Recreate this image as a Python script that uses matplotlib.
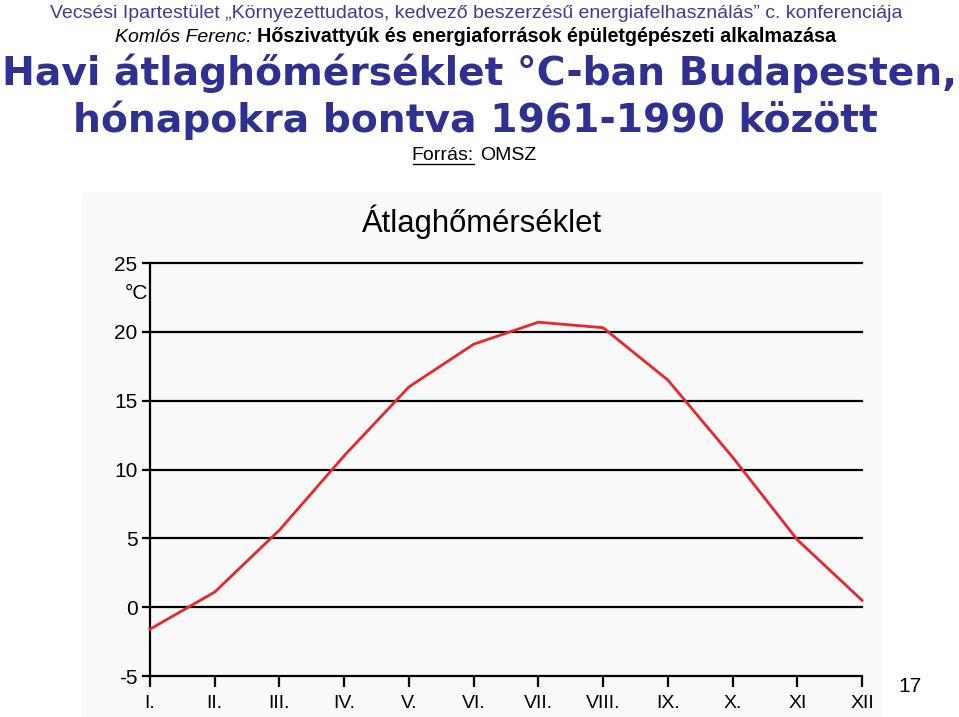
#!/usr/bin/env python3
"""
Havi átlaghőmérséklet Budapesten (1961-1990) - slide recreation
"""

import matplotlib
matplotlib.use("Agg")
import matplotlib.pyplot as plt
import matplotlib.patches as patches

# Monthly mean temperatures
MONTHS = ["I.", "II.", "III.", "IV.", "V.", "VI.", "VII.", "VIII.", "IX.", "X.", "XI", "XII"]
TEMPS = [-1.6, 1.1, 5.6, 11.0, 16.0, 19.1, 20.7, 20.3, 16.5, 10.9, 4.9, 0.5]
Y_TICKS = [-5, 0, 5, 10, 15, 20, 25]

NAVY = "#2e3192"
HEAD_BLUE = "#3b3b9a"
SANS = ["Liberation Sans", "DejaVu Sans"]

W, H = 959, 717
fig = plt.figure(figsize=(W / 100, H / 100), dpi=100)
fig.patch.set_facecolor("white")


def fx(px):
    return px / W


def fy(py):
    return 1 - py / H


# Header lines
fig.text(fx(476), fy(13), "Vecsési Ipartestület „Környezettudatos, kedvező beszerzésű "
         "energiafelhasználás” c. konferenciája",
         ha="center", va="center", fontsize=14, color=HEAD_BLUE, family=SANS)
fig.text(fx(257), fy(37), "Komlós Ferenc: ", ha="right", va="center",
         fontsize=14, style="italic", color="black", family=SANS)
fig.text(fx(257), fy(37), "Hőszivattyúk és energiaforrások épületgépészeti alkalmazása",
         ha="left", va="center", fontsize=14.2, weight="bold", color="black", family=SANS)

# Slide title
fig.text(fx(480), fy(73), "Havi átlaghőmérséklet °C-ban Budapesten,",
         ha="center", va="center", fontsize=28.3, weight="bold", color=NAVY,
         family="DejaVu Sans")
fig.text(fx(475), fy(120), "hónapokra bontva 1961-1990 között",
         ha="center", va="center", fontsize=28.3, weight="bold", color=NAVY,
         family="DejaVu Sans")

# Source
fig.text(fx(474), fy(155), "Forrás:", ha="right", va="center", fontsize=14,
         color="black", family=SANS)
fig.add_artist(plt.Line2D([fx(413), fx(474)], [fy(164), fy(164)], color="black", lw=1))
fig.text(fx(480), fy(155), "OMSZ", ha="left", va="center", fontsize=14,
         color="black", family=SANS)

# Faint chart image background
fig.add_artist(patches.Rectangle((fx(82), 0), fx(882) - fx(82), fy(193),
                                 transform=fig.transFigure, facecolor="#f9f9f9",
                                 edgecolor="none", zorder=0))

# Page number
fig.text(fx(910), fy(686), "17", ha="center", va="center", fontsize=15,
         color="black", family=SANS)

# Chart
left, right, top, bottom = 150, 862, 263, 676
ax = fig.add_axes([fx(left), fy(bottom), fx(right - left), fy(top) - fy(bottom)])
ax.set_facecolor("none")
x = list(range(len(MONTHS)))
ax.set_xlim(0, len(MONTHS) - 1)
ax.set_ylim(-5, 25)

for v in Y_TICKS[1:]:
    ax.axhline(v, color="black", lw=1.6, clip_on=False, zorder=1)

ax.plot(x, TEMPS, color="#e8262b", lw=2, clip_on=False, zorder=3)

for s in ["top", "right"]:
    ax.spines[s].set_visible(False)
ax.spines["left"].set_linewidth(1.6)
ax.spines["bottom"].set_linewidth(1.6)

ax.set_xticks(x)
ax.set_xticklabels(MONTHS, family=SANS, fontsize=14)
ax.set_yticks(Y_TICKS)
ax.set_yticklabels([str(v) for v in Y_TICKS], family=SANS, fontsize=15)
ax.tick_params(axis="x", direction="out", length=8, width=1.6, pad=6)
ax.tick_params(axis="y", direction="out", length=6, width=1.6, pad=3)

ax.text(-0.028, 22.8, "°C", transform=ax.transData, ha="right", va="center",
        fontsize=15, family=SANS)
fig.text(fx(482), fy(222), "Átlaghőmérséklet", ha="center", va="center",
         fontsize=22.3, family=SANS, color="black")

fig.savefig("out.png", dpi=100)
